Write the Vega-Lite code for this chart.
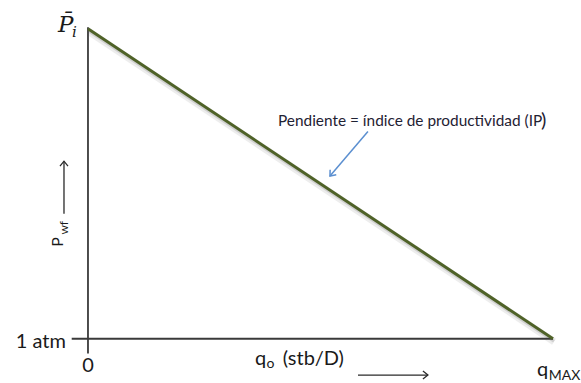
{
  "$schema": "https://vega.github.io/schema/vega-lite/v6.json",
  "width": 581,
  "height": 383,
  "autosize": {"type": "fit", "contains": "padding"},
  "padding": 0,
  "background": "white",
  "config": {"view": {"stroke": null}, "text": {"font": "Lato", "color": "#1a1a1a"}},
  "encoding": {
    "x": {"field": "q", "type": "quantitative", "scale": {"domain": [-18.92, 106.02], "nice": false, "zero": false}, "axis": null},
    "y": {"field": "P", "type": "quantitative", "scale": {"domain": [-13.64, 109.31], "nice": false, "zero": false}, "axis": null}
  },
  "layer": [
    {
      "data": {"values": [{"q": 0, "P": 100}, {"q": 100, "P": 0}]},
      "mark": {"type": "line", "color": "#9a9a9a", "strokeWidth": 7, "opacity": 0.18, "xOffset": 1, "yOffset": 3}
    },
    {
      "data": {"values": [{"q": 0, "P": 100}, {"q": 100, "P": 0}]},
      "mark": {"type": "line", "color": "#8a8a8a", "strokeWidth": 3, "opacity": 0.3, "xOffset": 1, "yOffset": 2.5}
    },
    {
      "data": {"values": [{"q": 0, "P": 100.5, "q2": 0, "P2": -4.8}, {"q": -3.5, "P": 0, "q2": 100, "P2": 0}]},
      "mark": {"type": "rule", "color": "#3a3a3a", "strokeWidth": 1.8},
      "encoding": {"x2": {"field": "q2"}, "y2": {"field": "P2"}}
    },
    {
      "data": {"values": [{"q": 0, "P": 100}, {"q": 100, "P": 0}]},
      "mark": {"type": "line", "color": "#4f6228", "strokeWidth": 3}
    },
    {
      "data": {"values": [{"q": 58.06, "P": -11.72, "q2": 73.1, "P2": -11.72}, {"q": -5.16, "P": 40.3, "q2": -5.16, "P2": 57.3}]},
      "mark": {"type": "rule", "color": "#2a2a2a", "strokeWidth": 1.3},
      "encoding": {"x2": {"field": "q2"}, "y2": {"field": "P2"}}
    },
    {
      "data": {"values": [{"q": 73.1, "P": -11.72}]},
      "mark": {"type": "point", "shape": "M-1,-0.8L0,0L-1,0.8", "filled": false, "stroke": "#2a2a2a", "strokeWidth": 1.3, "size": 100, "angle": 0, "opacity": 1}
    },
    {
      "data": {"values": [{"q": -5.16, "P": 57.3}]},
      "mark": {"type": "point", "shape": "M-1,-0.8L0,0L-1,0.8", "filled": false, "stroke": "#2a2a2a", "strokeWidth": 1.3, "size": 100, "angle": 270, "opacity": 1}
    },
    {
      "data": {"values": [{"q": 60.2, "P": 66.9, "q2": 52.04, "P2": 52.5}]},
      "mark": {"type": "rule", "color": "#5b8fd0", "strokeWidth": 1.5},
      "encoding": {"x2": {"field": "q2"}, "y2": {"field": "P2"}}
    },
    {
      "data": {"values": [{"q": 52.04, "P": 52.5}]},
      "mark": {"type": "point", "shape": "M-1,-0.8L0,0L-1,0.8", "filled": false, "stroke": "#5b8fd0", "strokeWidth": 1.5, "size": 100, "angle": 130, "opacity": 1}
    },
    {
      "data": {"values": [{"q": -4.73, "P": -3.05, "label": "1 atm"}]},
      "mark": {"type": "text", "align": "right", "baseline": "alphabetic", "fontSize": 20},
      "encoding": {"text": {"field": "label"}}
    },
    {
      "data": {"values": [{"q": 0, "P": -10.75, "label": "0"}]},
      "mark": {"type": "text", "align": "center", "baseline": "alphabetic", "fontSize": 20},
      "encoding": {"text": {"field": "label"}}
    },
    {
      "data": {"values": [{"q": 96.56, "P": -12.04, "label": "q"}, {"q": 35.9, "P": -8.5, "label": "q"}, {"q": 41.9, "P": -8.5, "label": "(stb/D)"}]},
      "mark": {"type": "text", "align": "left", "baseline": "alphabetic", "fontSize": 20},
      "encoding": {"text": {"field": "label"}}
    },
    {
      "data": {"values": [{"q": 99.1, "P": -13.2, "label": "MAX"}, {"q": 38.4, "P": -9.6, "label": "o"}]},
      "mark": {"type": "text", "align": "left", "baseline": "alphabetic", "fontSize": 14},
      "encoding": {"text": {"field": "label"}}
    },
    {
      "data": {"values": [{"q": 40.86, "P": 68.8, "label": "Pendiente = índice de productividad (IP"}]},
      "mark": {"type": "text", "align": "left", "baseline": "alphabetic", "fontSize": 15.4, "color": "#1f2233"},
      "encoding": {"text": {"field": "label"}}
    },
    {
      "data": {"values": [{"q": 97.4, "P": 68.3, "label": ")"}]},
      "mark": {"type": "text", "align": "left", "baseline": "alphabetic", "fontSize": 20, "color": "#1f2233"},
      "encoding": {"text": {"field": "label"}}
    },
    {
      "data": {"values": [{"q": -5.27, "P": 29.7, "label": "P"}]},
      "mark": {"type": "text", "align": "left", "baseline": "alphabetic", "fontSize": 16, "angle": 270},
      "encoding": {"text": {"field": "label"}}
    },
    {
      "data": {"values": [{"q": -4.19, "P": 33.6, "label": "wf"}]},
      "mark": {"type": "text", "align": "left", "baseline": "alphabetic", "fontSize": 12, "angle": 270},
      "encoding": {"text": {"field": "label"}}
    },
    {
      "data": {"values": [{"q": -6.45, "P": 99.0, "label": "P̄"}]},
      "mark": {"type": "text", "align": "left", "baseline": "alphabetic", "fontSize": 23, "font": "DejaVu Serif", "fontStyle": "italic", "color": "#1a1a1a"},
      "encoding": {"text": {"field": "label"}}
    },
    {
      "data": {"values": [{"q": -3.44, "P": 97.4, "label": "i"}]},
      "mark": {"type": "text", "align": "left", "baseline": "alphabetic", "fontSize": 15, "font": "DejaVu Serif", "fontStyle": "italic", "color": "#1a1a1a"},
      "encoding": {"text": {"field": "label"}}
    }
  ]
}
